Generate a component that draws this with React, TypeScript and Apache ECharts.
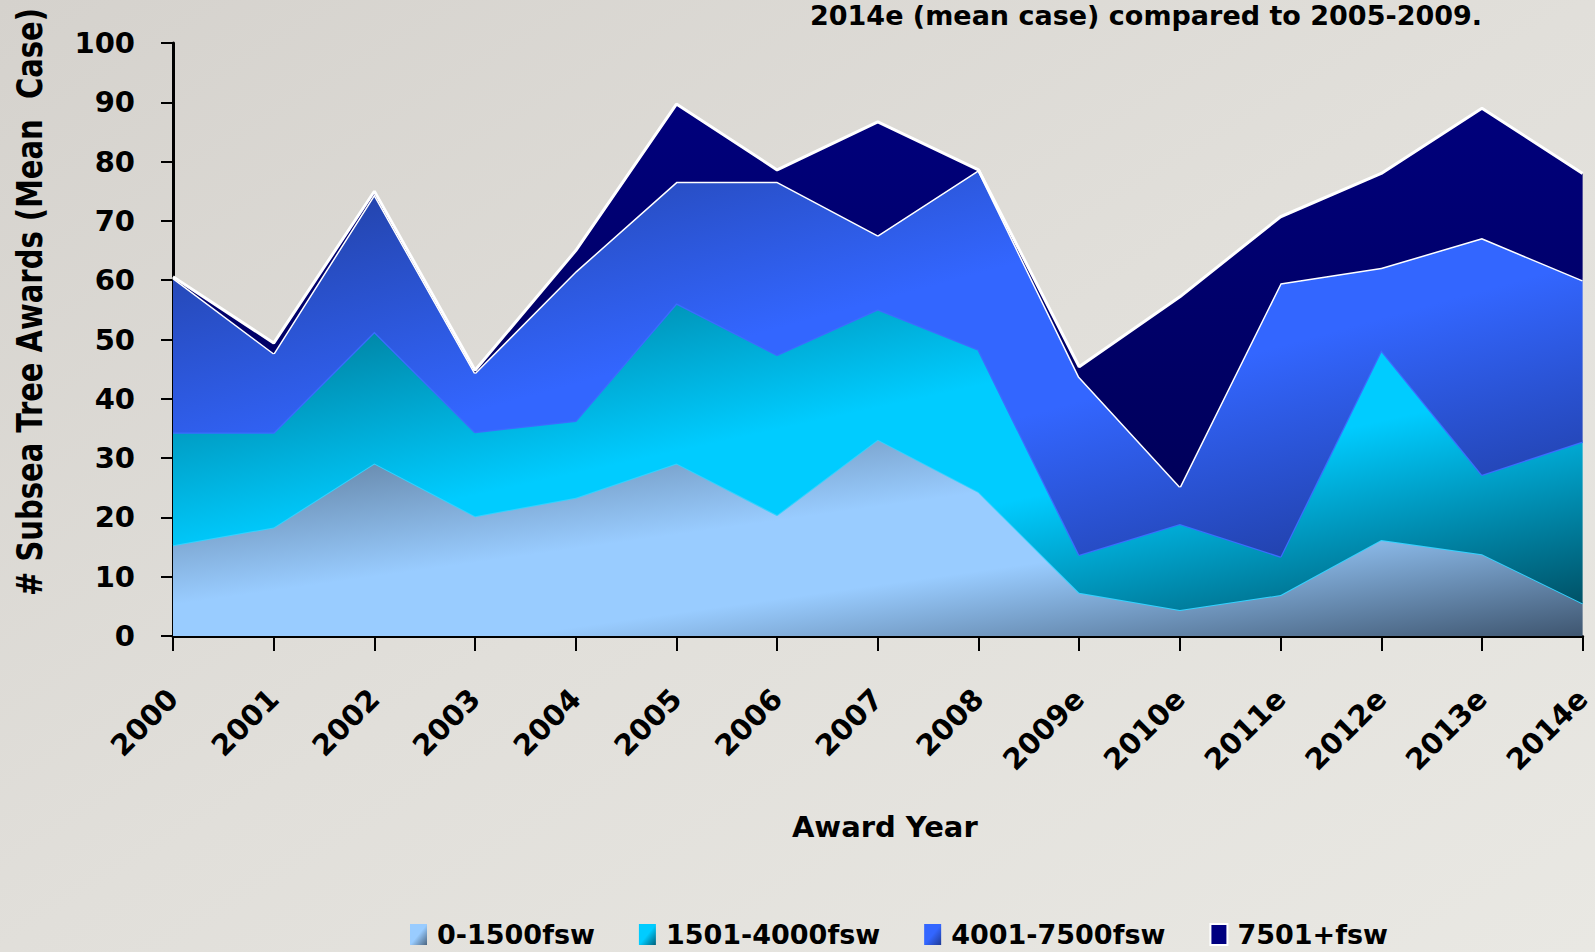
import React, { useEffect, useRef } from "react";
import * as echarts from "echarts";

const categories = ["2000", "2001", "2002", "2003", "2004", "2005", "2006", "2007", "2008", "2009e", "2010e", "2011e", "2012e", "2013e", "2014e"];
const seriesNames = ["0-1500fsw", "1501-4000fsw", "4001-7500fsw", "7501+fsw"];
const shallow = [15.3, 18.3, 29.1, 20.2, 23.3, 29.1, 20.4, 33.1, 24.3, 7.3, 4.4, 6.9, 16.2, 13.8, 5.5];
const mid = [19.0, 16.0, 22.2, 14.2, 13.0, 27.0, 27.0, 22.0, 24.0, 6.4, 14.5, 6.5, 32.0, 13.4, 27.3];
const deep = [26.1, 13.4, 23.2, 10.0, 25.2, 20.5, 29.2, 12.5, 30.3, 30.0, 6.3, 46.1, 13.9, 39.9, 27.2];
const ultra = [0.2, 1.7, 0.5, 0.4, 3.5, 13.1, 2.0, 19.1, 0.0, 1.7, 32.0, 11.2, 15.9, 21.9, 18.0];
const yTicks = { min: 0, max: 100, interval: 10 };

const FONT = "'DejaVu Sans', sans-serif";

function diag(dark1: string, light: string, dark2: string) {
  return new echarts.graphic.LinearGradient(0, 0, 1, 1, [
    { offset: 0, color: dark1 },
    { offset: 0.42, color: light },
    { offset: 0.62, color: light },
    { offset: 1, color: dark2 },
  ]);
}

export default function App() {
  const ref = useRef<HTMLDivElement>(null);
  useEffect(() => {
    if (!ref.current) return;
    const chart = echarts.init(ref.current, undefined, { renderer: "svg" });
    const fills = [
      diag("#56728f", "#99ccff", "#3f5670"),
      diag("#006e88", "#00ccff", "#004e62"),
      diag("#1f3a94", "#3366ff", "#1c3590"),
      new echarts.graphic.LinearGradient(0, 0, 0, 1, [
        { offset: 0, color: "#00007c" },
        { offset: 1, color: "#00005a" },
      ]),
    ];
    const lines = [
      { color: "#33d2ff", width: 2 },
      { color: "#3a6cff", width: 2.5 },
      { color: "#ffffff", width: 3 },
      { color: "#ffffff", width: 3 },
    ];
    const baseColors = ["#99ccff", "#00ccff", "#3366ff", "#000080"];
    const datasets = [shallow, mid, deep, ultra];
    const legendIcons = [
      new echarts.graphic.LinearGradient(1, 1, 0, 0, [
        { offset: 0, color: "#4b6580" },
        { offset: 0.5, color: "#99ccff" },
        { offset: 1, color: "#99ccff" },
      ]),
      new echarts.graphic.LinearGradient(1, 1, 0, 0, [
        { offset: 0, color: "#00607a" },
        { offset: 0.5, color: "#00ccff" },
        { offset: 1, color: "#00ccff" },
      ]),
      new echarts.graphic.LinearGradient(1, 1, 0, 0, [
        { offset: 0, color: "#1f3a94" },
        { offset: 0.5, color: "#3366ff" },
        { offset: 1, color: "#3366ff" },
      ]),
      "#000080",
    ];

    chart.setOption({
      animation: false,
      backgroundColor: new echarts.graphic.LinearGradient(0, 0, 1, 1, [
        { offset: 0, color: "#d5d2cd" },
        { offset: 0.5, color: "#e1dfda" },
        { offset: 1, color: "#e9e8e3" },
      ]),
      grid: { left: 173, right: 11, top: 43, bottom: 316, containLabel: false },
      legend: {
        left: 405,
        top: 916,
        itemWidth: 17,
        itemHeight: 21,
        itemGap: 44,
        icon: "rect",
        textStyle: { fontFamily: FONT, fontWeight: "bold", fontSize: 27, color: "#000", padding: [0, 0, 0, 5] },
        data: seriesNames.map((n, i) => ({
          name: n,
          itemStyle: i === 3
            ? { color: legendIcons[i], borderColor: "#ffffff", borderWidth: 2 }
            : { color: legendIcons[i] },
        })),
      },
      graphic: [
        {
          type: "text",
          x: 810,
          y: 15,
          style: {
            text: "2014e (mean case) compared to 2005-2009.",
            fontFamily: FONT,
            fontWeight: "bold",
            fontSize: 27,
            fill: "#000",
            align: "left",
            verticalAlign: "middle",
          },
        },
        {
          type: "text",
          x: 30,
          y: 302,
          rotation: Math.PI / 2,
          scaleY: 1.25,
          style: {
            text: "# Subsea Tree Awards (Mean  Case)",
            fontFamily: FONT,
            fontWeight: "bold",
            fontSize: 29,
            fill: "#000",
            align: "center",
            verticalAlign: "middle",
          },
        },
      ],
      xAxis: {
        type: "category",
        data: categories,
        boundaryGap: false,
        name: "Award Year",
        nameLocation: "middle",
        nameGap: 176,
        nameTextStyle: { fontFamily: FONT, fontWeight: "bold", fontSize: 29, color: "#000", padding: [0, 0, 0, 14] },
        axisLine: { lineStyle: { color: "#000", width: 3 } },
        axisTick: { show: true, length: 15, lineStyle: { color: "#000", width: 2 } },
        axisLabel: {
          rotate: 45,
          margin: 58,
          fontFamily: FONT,
          fontWeight: "bold",
          fontSize: 29,
          color: "#000",
          interval: 0,
        },
        splitLine: { show: false },
      },
      yAxis: {
        type: "value",
        min: yTicks.min,
        max: yTicks.max,
        interval: yTicks.interval,
        axisLine: { show: true, lineStyle: { color: "#000", width: 3 } },
        axisTick: { show: true, length: 12, lineStyle: { color: "#000", width: 2 } },
        axisLabel: { margin: 38, fontFamily: FONT, fontWeight: "bold", fontSize: 29, color: "#000" },
        splitLine: { show: false },
      },
      series: datasets.map((d, i) => ({
        name: seriesNames[i],
        type: "line",
        stack: "total",
        data: d,
        symbol: "none",
        showSymbol: false,
        itemStyle: { color: baseColors[i] },
        lineStyle: lines[i],
        areaStyle: { color: fills[i], opacity: 1 },
        z: 2 + i,
      })),
    });
    return () => chart.dispose();
  }, []);
  return (
    <div
      ref={ref}
      style={{ position: "fixed", left: 0, top: 0, width: 1595, height: 952 }}
    />
  );
}
